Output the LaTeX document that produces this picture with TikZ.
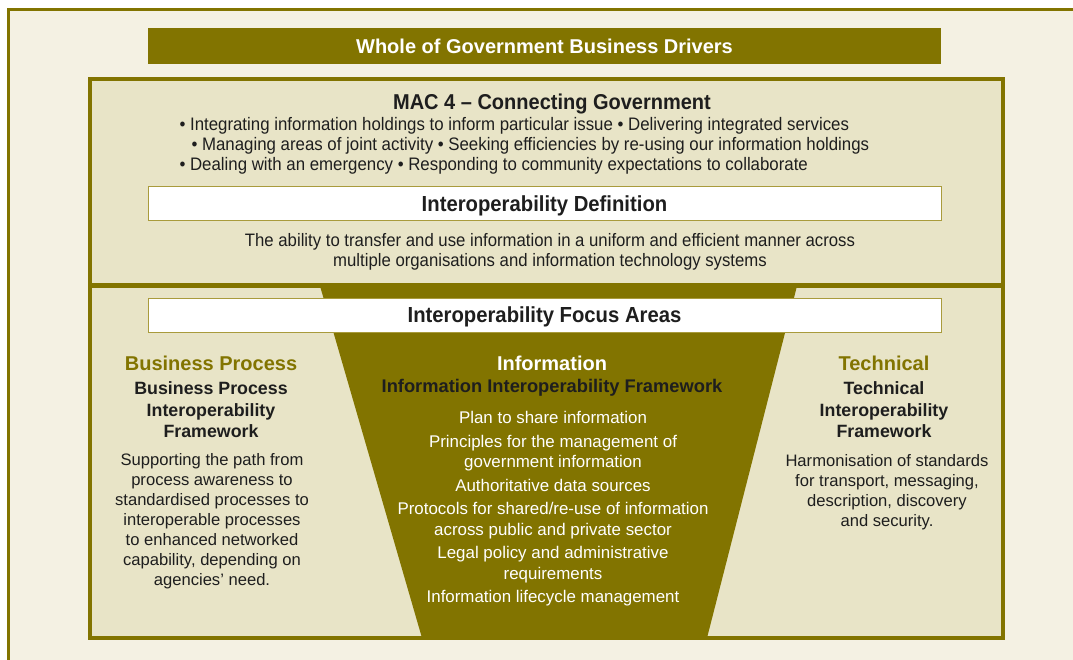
\documentclass[tikz,border=0pt]{standalone}
\usepackage{fontspec}
\setmainfont{Liberation Sans}
\newfontfamily\condfont[FakeStretch=0.93]{Liberation Sans}
\definecolor{drab}{HTML}{827400}
\definecolor{paper}{HTML}{F4F1E3}
\definecolor{sand}{HTML}{E8E4C7}
\definecolor{rule}{HTML}{A99B3C}
\definecolor{ink}{HTML}{1E1E1E}
\tikzset{
	band/.style={minimum width=793pt,inner sep=0pt},
	strip/.style={band,draw=rule,line width=1pt,fill=white,minimum height=34pt,text depth=0pt,text=ink,
		font=\condfont\bfseries\fontsize{21.8}{24}\selectfont},
	head/.style={text=drab,font=\bfseries\fontsize{20}{24}\selectfont},
	subhead/.style={align=center,text=ink,font=\bfseries\fontsize{17.8}{21.5}\selectfont},
	body/.style={align=center,text=ink,font=\fontsize{16.6}{20}\selectfont},
}
\begin{document}
\begin{tikzpicture}[x=1pt,y=-1pt]
	\useasboundingbox (0,0) rectangle (1073,660);
	\fill[white] (0,0) rectangle (1073,660);
	\draw[drab,line width=3pt,fill=paper] (8.5,9.5) rectangle (1100,700);
	% driver bar
	\node[band,fill=drab,minimum height=36pt,text=white,font=\bfseries\fontsize{20}{24}\selectfont]
		(drivers) at (544.5,46) {Whole of Government Business Drivers};
	% frame with funnel
	\fill[sand] (90,79) rectangle (1003,638);
	\fill[drab] (320,286)--(797,286)--(707,638)--(422,638)--cycle;
	\draw[drab,line width=4pt] (90,79) rectangle (1003,638);
	\draw[drab,line width=5pt] (90,285.5)--(1003,285.5);
	% upper part
	\node[text=ink,font=\condfont\bfseries\fontsize{21.5}{24}\selectfont] (mac) at (552,104) {MAC 4 – Connecting Government};
	\node[anchor=west,align=left,text=ink,font=\condfont\fontsize{18.1}{20}\selectfont] (drv) at (176,146)
		{• Integrating information holdings to inform particular issue • Delivering integrated services\\
		\hspace*{12pt}• Managing areas of joint activity • Seeking efficiencies by re-using our information holdings\\
		• Dealing with an emergency • Responding to community expectations to collaborate};
	\node[strip] (defn) at (544.5,204) {Interoperability Definition};
	\node[align=center,text=ink,font=\condfont\fontsize{18}{20}\selectfont] (defntext) at (550,252)
		{The ability to transfer and use information in a uniform and efficient manner across\\
		multiple organisations and information technology systems};
	% focus areas
	\node[strip] (focus) at (544.5,315) {Interoperability Focus Areas};
	\node[head] (bp) at (211,363) {Business Process};
	\node[subhead] (bpf) at (211,410) {Business Process\\Interoperability\\Framework};
	\node[body] (bpt) at (212,521) {Supporting the path from\\process awareness to\\standardised processes to\\
		interoperable processes\\to enhanced networked\\capability, depending on\\agencies’ need.};
	\node[head,text=white] (info) at (552,363) {Information};
	\node[subhead,font=\bfseries\fontsize{18.3}{21.5}\selectfont] (infof) at (552,388) {Information Interoperability Framework};
	\node[body,text=white,font=\fontsize{16.9}{20.5}\selectfont] (infot) at (553,509) {Plan to share information\\[3pt]
		Principles for the management of\\government information\\[3pt]
		Authoritative data sources\\[3pt]
		Protocols for shared/re-use of information\\across public and private sector\\[3pt]
		Legal policy and administrative\\requirements\\[3pt]
		Information lifecycle management};
	\node[head] (tech) at (884,363) {Technical};
	\node[subhead] (techf) at (884,410) {Technical\\Interoperability\\Framework};
	\node[body] (techt) at (887,492) {Harmonisation of standards\\for transport, messaging,\\description, discovery\\and security.};
\end{tikzpicture}
\end{document}
